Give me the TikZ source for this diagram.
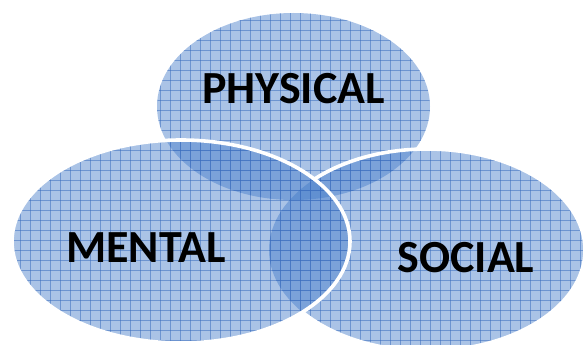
\documentclass[tikz,border=0pt]{standalone}
\usepackage{fontspec}
\setmainfont{Carlito}
\begin{document}
\begin{tikzpicture}[x=1pt,y=-1pt,
  blob/.style={fill={rgb,255:red,66;green,122;blue,200}, fill opacity=0.45},
  gridline/.style={draw={rgb,255:red,60;green,110;blue,190}, draw opacity=0.55, line width=0.6pt},
  rim/.style={draw=white, line width=3.6pt},
  lbl/.style={font=\fontsize{46}{50}\selectfont\bfseries, text=black, inner sep=0pt},
  mesh/.pic={\foreach \k in {0,10,...,590}{\draw[gridline] (\k,0) -- (\k,360);}
             \foreach \k in {0,10,...,360}{\draw[gridline] (0,\k) -- (590,\k);}}]
\useasboundingbox (0,0) rectangle (584,345);
\def\physE{(293.5,106.5) ellipse [x radius=136.5, y radius=93.5]}
\def\socE{(427,250) ellipse [x radius=158, y radius=101]}
\def\menE{(181,241.5) ellipse [x radius=169, y radius=101.5]}
% physical
\path[blob] \physE;
\begin{scope}\clip \physE; \pic at (0,0) {mesh};\end{scope}
% social
\path[blob] \socE;
\begin{scope}\clip \socE; \pic at (0,0) {mesh};\end{scope}
\begin{scope}[even odd rule]
  \clip (-20,-20) rectangle (620,380) \menE;
  \draw[rim] \socE;
\end{scope}
% mental
\path[blob] \menE;
\begin{scope}\clip \menE; \pic at (0,0) {mesh};\end{scope}
\draw[rim] \menE;
% labels
\node[lbl] (phys) at (293.5,89) {PHYSICAL};
\node[lbl] (ment) at (146,248) {MENTAL};
\node[lbl] (soc) at (466,257.5) {SOCIAL};
\end{tikzpicture}
\end{document}
